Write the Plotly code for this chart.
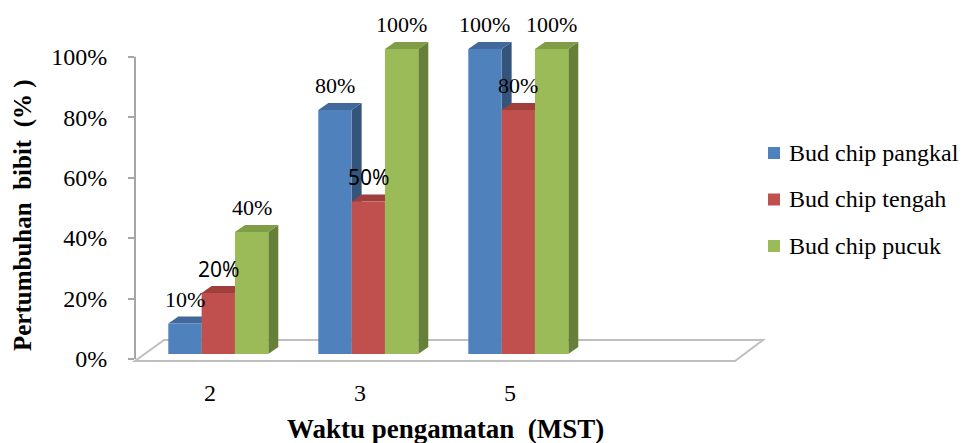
import plotly.graph_objects as go

# ---- data ----
categories = ["2", "3", "5"]
series_names = ["Bud chip pangkal", "Bud chip tengah", "Bud chip pucuk"]
pangkal = [10, 80, 100]
tengah = [20, 50, 80]
pucuk = [40, 100, 100]
y_ticks = [0, 20, 40, 60, 80, 100]
y_tick_text = ["0%", "20%", "40%", "60%", "80%", "100%"]
x_title = "Waktu pengamatan\u00a0 (MST)"
y_title = "Pertumbuhan\u00a0 bibit\u00a0 (%\u00a0)"

# ---- styling ----
front_colors = ["#4F81BD", "#C0504D", "#9BBB59"]
top_colors = ["#41699B", "#9F3E3B", "#7F9C46"]
side_colors = ["#34547C", "#853331", "#66803A"]
serif = "Liberation Serif"
sans = "Noto Sans"

W, H = 965, 443
PL, PR = 135, 735          # plot area, px (x)
PT, PB = 12, 372           # plot area, px (y)
AX_ZERO, AX_SCALE = 359, 3.023   # value axis: px of 0% and px per %
BAR_ZERO, BAR_SCALE = 354, 3.05  # bar front faces: px of 0% and px per %
X_SCALE = (PR - PL) / 4.0        # px per category slot
DEPTH_X, DEPTH_Y = 10, 7         # 3-D depth of bars, px

bar_w = 33.33 / X_SCALE
offsets = [(168.3 - 210) / X_SCALE + k * bar_w for k in range(3)]
dxu = DEPTH_X / X_SCALE
dyu = DEPTH_Y / BAR_SCALE

xpos = list(range(len(categories)))
values = [pangkal, tengah, pucuk]


def px_x(px):
    return (px - PL) / (PR - PL)


def px_y(py):
    return (PB - py) / (PB - PT)


fig = go.Figure()

for s, (name, vals) in enumerate(zip(series_names, values)):
    fig.add_trace(go.Bar(
        x=xpos, y=vals, name=name,
        offset=offsets[s], width=bar_w,
        marker=dict(color=front_colors[s], line=dict(width=0)),
        yaxis="y2", showlegend=False,
    ))

shapes = []

# floor of the 3-D plot
fl = [(135, 361), (735, 361), (763, 340), (164, 340)]
floor_path = "M " + " L ".join(f"{px_x(a)} {px_y(b)}" for a, b in fl) + " Z"
shapes.append(dict(type="path", xref="paper", yref="paper", path=floor_path,
                   line=dict(color="#BFBFBF", width=2), fillcolor="white",
                   layer="below"))

# value axis line
shapes.append(dict(type="line", xref="paper", yref="y", x0=0, x1=0,
                   y0=0, y1=100, line=dict(color="#A6A6A6", width=2),
                   layer="below"))

# side and top faces of each bar
for i in xpos:
    for s in range(3):
        v = values[s][i]
        xl = i + offsets[s]
        xr = xl + bar_w
        side = (f"M {xr} 0 L {xr + dxu} {dyu} L {xr + dxu} {v + dyu} "
                f"L {xr} {v} Z")
        top = (f"M {xl} {v} L {xr} {v} L {xr + dxu} {v + dyu} "
               f"L {xl + dxu} {v + dyu} Z")
        shapes.append(dict(type="path", xref="x", yref="y2", path=side,
                           fillcolor=side_colors[s], line=dict(width=0),
                           layer="below"))
        shapes.append(dict(type="path", xref="x", yref="y2", path=top,
                           fillcolor=top_colors[s], line=dict(width=0),
                           layer="below"))

annotations = []

# value labels above the bars
sans_labels = {(1, 0), (1, 1)}  # (series, category) drawn in sans
for s in range(3):
    for i in xpos:
        v = values[s][i]
        fam = sans if (s, i) in sans_labels else serif
        annotations.append(dict(
            x=i + offsets[s] + bar_w / 2, y=v, xref="x", yref="y2",
            text=f"{v}%", showarrow=False, yshift=24.5,
            font=dict(family=fam, size=22 if fam == serif else 21, color="black"),
        ))

# legend: coloured squares with series names
for s, name in enumerate(series_names):
    cy = 153 + s * 46.5
    shapes.append(dict(type="rect", xref="paper", yref="paper",
                       x0=px_x(768), x1=px_x(780), y0=px_y(cy + 6), y1=px_y(cy - 6),
                       fillcolor=front_colors[s], line=dict(width=0)))
    annotations.append(dict(x=px_x(787), y=px_y(cy), xref="paper", yref="paper",
                            xanchor="left", yanchor="middle", showarrow=False,
                            text=name, font=dict(family=serif, size=24, color="black")))

# axis titles
annotations.append(dict(x=px_x(445), y=px_y(429), xref="paper", yref="paper",
                        xanchor="center", yanchor="middle", showarrow=False,
                        text=x_title,
                        font=dict(family=serif, size=27, color="black", weight="bold")))
annotations.append(dict(x=px_x(23), y=px_y(215), xref="paper", yref="paper",
                        xanchor="center", yanchor="middle", showarrow=False,
                        textangle=-90, text=y_title,
                        font=dict(family=serif, size=25, color="black", weight="bold")))

fig.update_layout(
    width=W, height=H,
    margin=dict(l=PL, r=W - PR, t=PT, b=H - PB, pad=0),
    paper_bgcolor="white", plot_bgcolor="rgba(0,0,0,0)",
    barmode="overlay", showlegend=False,
    shapes=shapes, annotations=annotations,
    font=dict(family=serif, color="black", size=24),
    xaxis=dict(
        range=[-0.5, 3.5], tickvals=xpos, ticktext=categories,
        showgrid=False, zeroline=False, showline=False, ticks="",
        tickfont=dict(family=serif, size=24), ticklabelstandoff=4,
        fixedrange=True,
    ),
    yaxis=dict(
        range=[(AX_ZERO - PB) / AX_SCALE, (AX_ZERO - PT) / AX_SCALE],
        tickvals=y_ticks, ticktext=y_tick_text,
        showgrid=False, zeroline=False, showline=False,
        ticks="outside", ticklen=6, tickwidth=2, tickcolor="#A6A6A6",
        tickfont=dict(family=serif, size=24), ticklabelstandoff=16,
        fixedrange=True,
    ),
    yaxis2=dict(
        range=[(BAR_ZERO - PB) / BAR_SCALE, (BAR_ZERO - PT) / BAR_SCALE],
        overlaying="y", visible=False, fixedrange=True,
    ),
)

fig.write_html("out.html")
